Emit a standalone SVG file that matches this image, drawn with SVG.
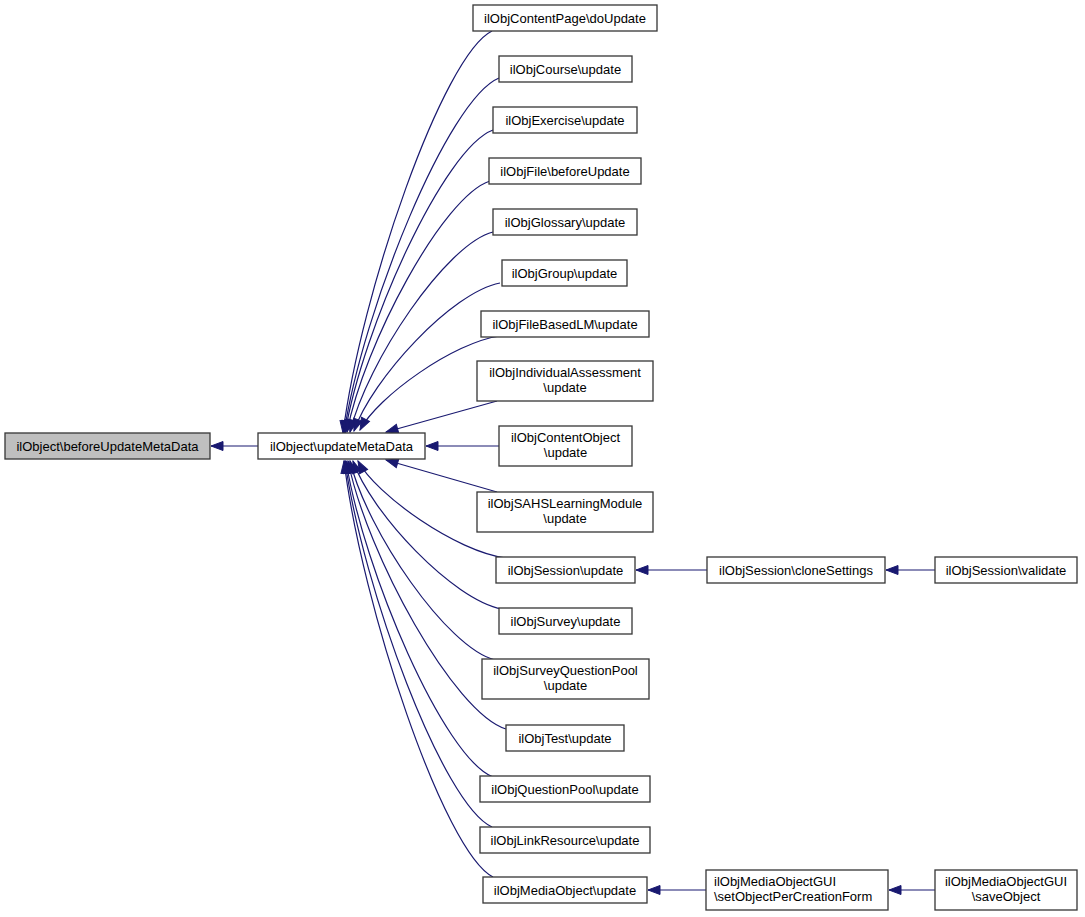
<svg xmlns="http://www.w3.org/2000/svg" width="1085" height="917" viewBox="0 0 1085 917">
<style>
.n rect{fill:#fff;stroke:#3a3a3a;stroke-width:1.33}
.n.h rect{fill:#bfbfbf}
.n text{font-family:"Liberation Sans",Arial,sans-serif;font-size:13px;fill:#000;text-anchor:middle}
.e path{fill:none;stroke:#191970;stroke-width:1.2;marker-end:url(#ah)}
</style>
<defs>
<marker id="ah" markerUnits="userSpaceOnUse" markerWidth="14" markerHeight="11" viewBox="0 0 14 11" refX="13" refY="5.5" orient="auto">
<path d="M1,1 L13,5.5 L1,10 z" fill="#191970" stroke="#191970" stroke-width="1"/>
</marker>
</defs>
<rect width="1085" height="917" fill="#fff"/>
<g id="edges" class="e">
<path d="M258,446 L211,446"/>
<path d="M492,31 C443,55 361,292 343,433"/>
<path d="M499,78 C448,99 363,309 344,433"/>
<path d="M493,130 C444,148 363,327 345,433"/>
<path d="M490,181 C443,196 364,344 347,432"/>
<path d="M493,232 C446,244 367,362 350,432"/>
<path d="M500,283 C452,292 372,379 354,431"/>
<path d="M500,336 C454,342 377,397 360,430"/>
<path d="M497,401 L386,432"/>
<path d="M499,446 L426,446"/>
<path d="M497,492 L386,460"/>
<path d="M506,558 C457,552 376,495 358,461"/>
<path d="M502,609 C453,600 371,513 353,461"/>
<path d="M495,660 C447,648 367,531 350,461"/>
<path d="M506,729 C454,713 367,555 348,461"/>
<path d="M493,777 C444,758 364,572 346,461"/>
<path d="M492,827 C443,805 363,589 345,461"/>
<path d="M493,877 C444,852 362,607 344,461"/>
<path d="M707,570 L636,570"/>
<path d="M935,570 L886,570"/>
<path d="M706,890 L648,890"/>
<path d="M935,890 L889,890"/>
</g>
<g id="n0" class="n h"><rect x="5" y="433" width="205" height="26"/><text x="107.5" y="450.5">ilObject\beforeUpdateMetaData</text></g>
<g id="n1" class="n"><rect x="258" y="433" width="167" height="26"/><text x="341.5" y="450.5">ilObject\updateMetaData</text></g>
<g id="n2" class="n"><rect x="473" y="5" width="184" height="26"/><text x="565" y="22.5">ilObjContentPage\doUpdate</text></g>
<g id="n3" class="n"><rect x="499" y="56" width="133" height="26"/><text x="565.5" y="73.5">ilObjCourse\update</text></g>
<g id="n4" class="n"><rect x="493" y="107" width="144" height="26"/><text x="565" y="124.5">ilObjExercise\update</text></g>
<g id="n5" class="n"><rect x="489" y="158" width="152" height="26"/><text x="565" y="175.5">ilObjFile\beforeUpdate</text></g>
<g id="n6" class="n"><rect x="493" y="209" width="144" height="26"/><text x="565" y="226.5">ilObjGlossary\update</text></g>
<g id="n7" class="n"><rect x="502" y="260" width="125" height="26"/><text x="564.5" y="277.5">ilObjGroup\update</text></g>
<g id="n8" class="n"><rect x="481" y="311" width="168" height="26"/><text x="565" y="328.5">ilObjFileBasedLM\update</text></g>
<g id="n9" class="n"><rect x="477" y="361" width="176" height="40"/><text x="565" y="377">ilObjIndividualAssessment</text><text x="565" y="392">\update</text></g>
<g id="n10" class="n"><rect x="499" y="426" width="133" height="40"/><text x="565.5" y="442">ilObjContentObject</text><text x="565.5" y="457">\update</text></g>
<g id="n11" class="n"><rect x="477" y="492" width="176" height="40"/><text x="565" y="508">ilObjSAHSLearningModule</text><text x="565" y="523">\update</text></g>
<g id="n12" class="n"><rect x="496" y="557" width="139" height="26"/><text x="565.5" y="574.5">ilObjSession\update</text></g>
<g id="n13" class="n"><rect x="499" y="608" width="133" height="26"/><text x="565.5" y="625.5">ilObjSurvey\update</text></g>
<g id="n14" class="n"><rect x="482" y="659" width="167" height="40"/><text x="565.5" y="675">ilObjSurveyQuestionPool</text><text x="565.5" y="690">\update</text></g>
<g id="n15" class="n"><rect x="506" y="725" width="118" height="26"/><text x="565" y="742.5">ilObjTest\update</text></g>
<g id="n16" class="n"><rect x="480" y="776" width="170" height="26"/><text x="565" y="793.5">ilObjQuestionPool\update</text></g>
<g id="n17" class="n"><rect x="480" y="827" width="170" height="26"/><text x="565" y="844.5">ilObjLinkResource\update</text></g>
<g id="n18" class="n"><rect x="483" y="877" width="164" height="26"/><text x="565" y="894.5">ilObjMediaObject\update</text></g>
<g id="n19" class="n"><rect x="707" y="557" width="178" height="26"/><text x="796" y="574.5">ilObjSession\cloneSettings</text></g>
<g id="n20" class="n"><rect x="935" y="557" width="142" height="26"/><text x="1006" y="574.5">ilObjSession\validate</text></g>
<g id="n21" class="n"><rect x="706" y="870" width="182" height="40"/><text x="714" y="886" style="text-anchor:start">ilObjMediaObjectGUI</text><text x="714" y="901" style="text-anchor:start">\setObjectPerCreationForm</text></g>
<g id="n22" class="n"><rect x="935" y="870" width="142" height="40"/><text x="1006" y="886">ilObjMediaObjectGUI</text><text x="1006" y="901">\saveObject</text></g>
</svg>
